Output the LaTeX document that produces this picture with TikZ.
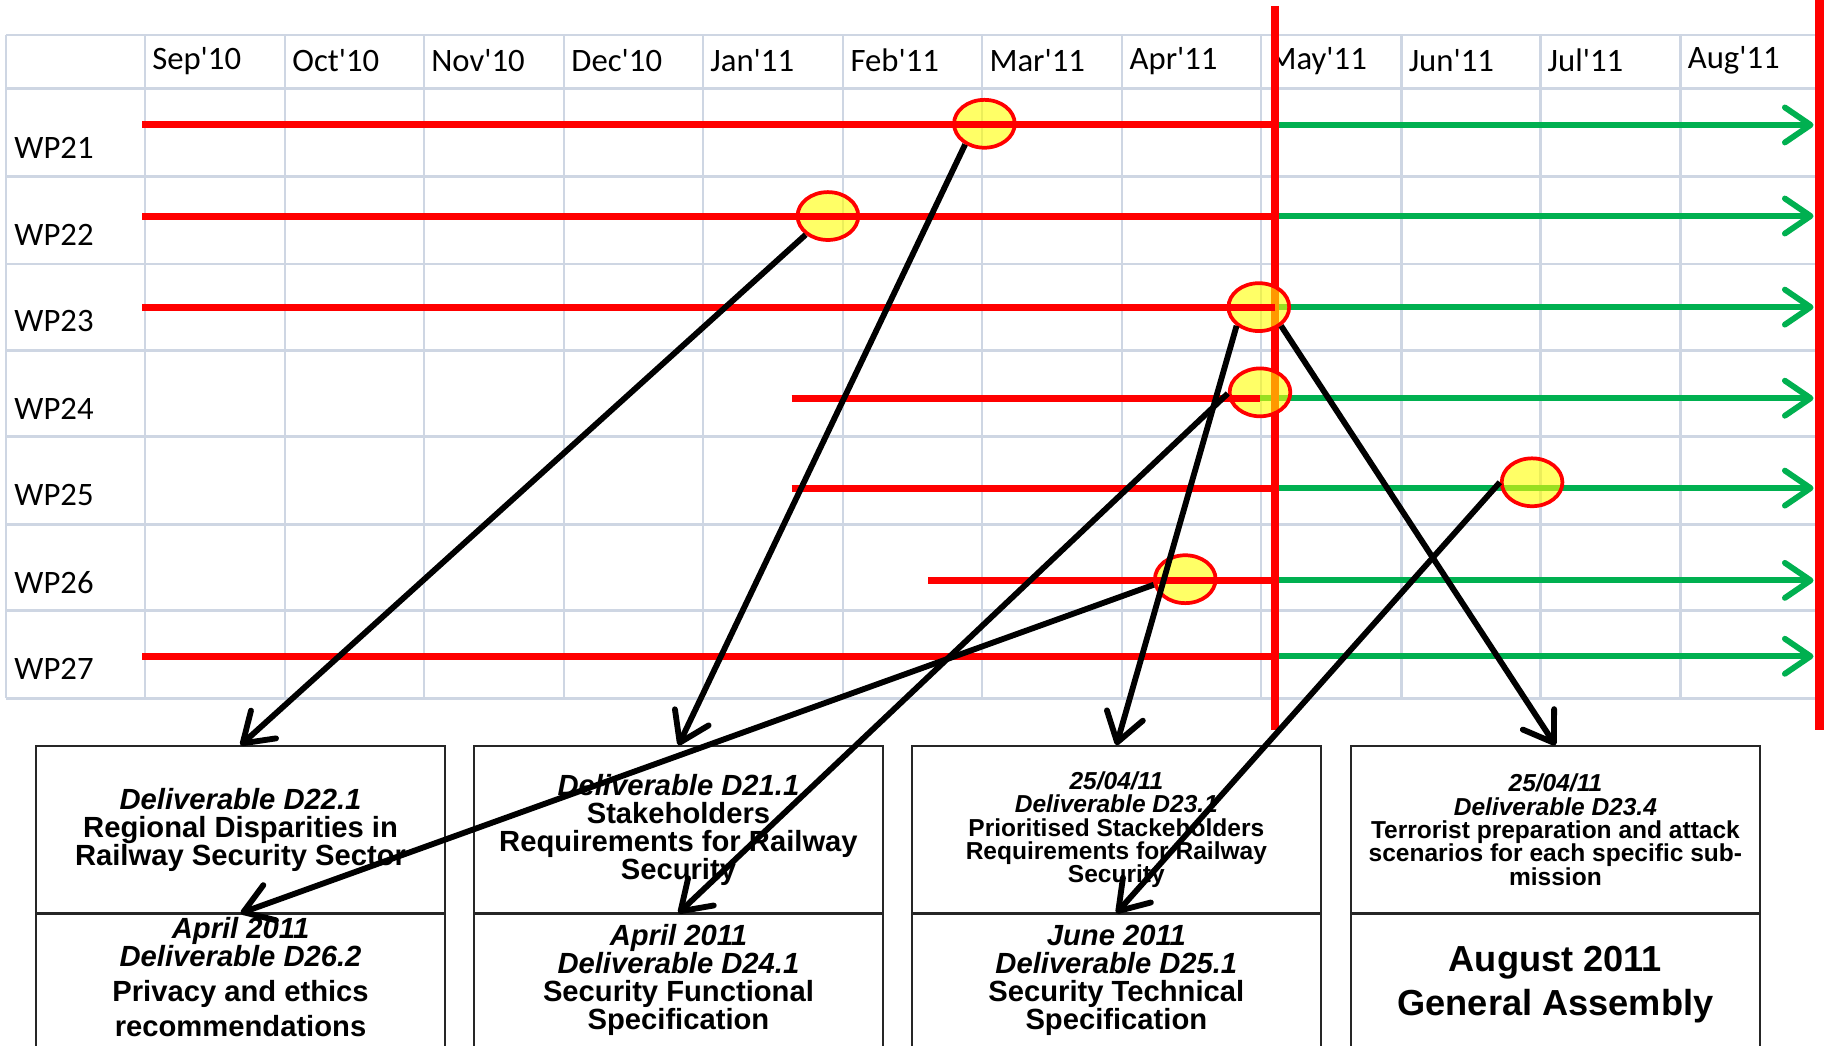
\documentclass[tikz,border=0pt]{standalone}
\usepackage{fontspec}
\setmainfont{Liberation Sans}
\newfontfamily\calib[Ligatures=TeXOff]{Carlito}
\usetikzlibrary{arrows.meta,shapes.geometric}
\definecolor{gridc}{HTML}{CED6E3}
\definecolor{redc}{HTML}{FF0000}
\definecolor{greenc}{HTML}{00B050}
\definecolor{yel}{HTML}{FFFF00}
\begin{document}
\begin{tikzpicture}[x=0.5pt,y=-0.5pt,
  gridline/.style={gridc,line width=1.1pt},
  redbar/.style={redc,line width=3pt},
  redvert/.style={redc,line width=3.6pt},
  greenarrow/.style={greenc,line width=2.5pt,-{Straight Barb[length=11pt,width=15pt,round]}},
  blackarrow/.style={black,line width=2.5pt,-{Straight Barb[length=12pt,width=16pt,round]}},
  milestone/.style={ellipse,draw=redc,line width=1.6pt,fill=yel,fill opacity=0.6,draw opacity=1,minimum width=26pt,minimum height=20.5pt,inner sep=0pt},
  lbl/.style={font=\calib\fontsize{14}{14}\selectfont,anchor=west,inner sep=0pt},
  delbox/.style={draw=black!85,line width=0.8pt,minimum width=175pt,minimum height=71.5pt,align=center,inner sep=0pt,font=\bfseries\fontsize{12.5}{12}\selectfont},
  smallbox/.style={delbox,font=\bfseries\fontsize{10.5}{10}\selectfont},
  lowbox/.style={draw=black!85,line width=0.8pt,minimum width=175pt,minimum height=89pt,inner sep=0pt,anchor=north},
  ln/.style={font=\bfseries\fontsize{12.5}{12}\selectfont,anchor=base,inner sep=0pt},
  bigln/.style={font=\bfseries\fontsize{15.5}{15}\selectfont,anchor=base,inner sep=0pt}
]
\useasboundingbox (0,0) rectangle (1568,895);
\clip (0,0) rectangle (1568,895);
\fill[white] (0,0) rectangle (1568,895);

% grid
\foreach \x in {5,124,244,363,483,602,722,841,961,1080,1200,1319,1439}
  \draw[gridline] (\x,30) -- (\x,598);
\foreach \y in {30,76,151,226,300,374,449,523,598}
  \draw[gridline] (5,\y) -- (1558,\y);

% month labels
\foreach \x/\m [count=\i] in {124/Sep'10,244/Oct'10,363/Nov'10,483/Dec'10,602/Jan'11,722/Feb'11,841/Mar'11,961/Apr'11,1080/May'11,1200/Jun'11,1319/Jul'11,1439/Aug'11}
  \node[lbl] (m\i) at (\x+6,52) {\m};

% WP labels
\foreach \y/\w in {127/WP21,201/WP22,275/WP23,350/WP24,424/WP25,499/WP26,573/WP27}
  \node[lbl] (\w) at (12,\y) {\w};

% green arrows
\draw[greenarrow] (1092,107) -- (1553,107);
\draw[greenarrow] (1092,185) -- (1553,185);
\draw[greenarrow] (1092,263) -- (1553,263);
\draw[greenarrow] (1079,341) -- (1553,341);
\draw[greenarrow] (1092,418) -- (1553,418);
\draw[greenarrow] (1092,497) -- (1553,497);
\draw[greenarrow] (1092,562) -- (1553,562);

% red vertical lines
\draw[redvert] (1092,5) -- (1092,625);
\draw[redvert] (1558,0) -- (1558,625);

% milestones
\node[milestone] (e21) at (843,106) {};
\node[milestone] (e22) at (709,185) {};
\node[milestone] (e23) at (1078,263) {};
\node[milestone] (e24) at (1079,336) {};
\node[milestone] (e25) at (1312,413) {};
\node[milestone] (e26) at (1015,496) {};

% red bars
\draw[redbar] (122,107) -- (1092,107);
\draw[redbar] (122,185) -- (1092,185);
\draw[redbar] (122,263) -- (1092,263);
\draw[redbar] (678,341) -- (1079,341);
\draw[redbar] (678,418) -- (1092,418);
\draw[redbar] (795,497) -- (1092,497);
\draw[redbar] (122,562) -- (1092,562);

% deliverable boxes (top row)
\node[delbox] (d221) at (206,710.5) {\textit{Deliverable D22.1}\\Regional Disparities in\\Railway Security Sector};
\node[delbox] (d211) at (581,710.5) {\textit{Deliverable D21.1}\\Stakeholders\\Requirements for Railway\\Security};
\node[smallbox] (d231) at (956,710.5) {\textit{25/04/11}\\\textit{Deliverable D23.1}\\Prioritised Stackeholders\\Requirements for Railway\\Security};
\node[smallbox] (d234) at (1332,710.5) {\textit{25/04/11}\\\textit{Deliverable D23.4}\\Terrorist preparation and attack\\scenarios for each specific sub-\\mission};

% bottom row boxes
\node[lowbox] (d262) at (206,782) {};
\node[lowbox] (d241) at (581,782) {};
\node[lowbox] (d251) at (956,782) {};
\node[lowbox] (ga) at (1332,782) {};

\node[ln] (t1a) at (206,804) {\textit{April 2011}};
\node[ln] (t1b) at (206,828) {\textit{Deliverable D26.2}};
\node[ln] (t1c) at (206,858) {Privacy and ethics};
\node[ln] (t1d) at (206,888) {recommendations};

\node[ln] (t2a) at (581,810) {\textit{April 2011}};
\node[ln] (t2b) at (581,834) {\textit{Deliverable D24.1}};
\node[ln] (t2c) at (581,858) {Security Functional};
\node[ln] (t2d) at (581,882) {Specification};

\node[ln] (t3a) at (956,810) {\textit{June 2011}};
\node[ln] (t3b) at (956,834) {\textit{Deliverable D25.1}};
\node[ln] (t3c) at (956,858) {Security Technical};
\node[ln] (t3d) at (956,882) {Specification};

\node[bigln] (t4a) at (1332,832) {August 2011};
\node[bigln] (t4b) at (1332,870) {General Assembly};

% black arrows
\draw[blackarrow] (e22.220) -- (d221.north);
\draw[blackarrow] (e21.227) -- (d211.north);
\draw[blackarrow] (e23.220) -- (d231.north);
\draw[blackarrow] (e23.-40) -- (d234.north);
\draw[blackarrow] (e24.182) -- (d241.north);
\draw[blackarrow] (e26.190) -- (d262.north);
\draw[blackarrow] (e25.180) -- (d251.north);
\end{tikzpicture}
\end{document}
